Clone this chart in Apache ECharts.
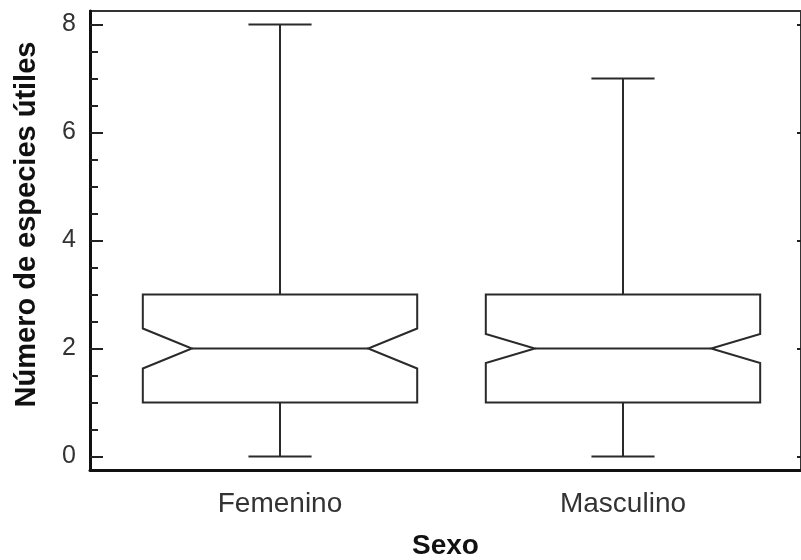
<!DOCTYPE html>
<html>
<head>
<meta charset="utf-8">
<script src="https://cdn.jsdelivr.net/npm/echarts@6/dist/echarts.min.js"></script>
<style>html,body{margin:0;padding:0;background:#fff}#c{width:801px;height:560px}</style>
</head>
<body>
<div id="c"></div>
<script>
// ---- data ----
const categories = ['Femenino', 'Masculino'];
const positions = [1, 2];
const minVals = [0, 0];
const q1Vals = [1, 1];
const medianVals = [2, 2];
const q3Vals = [3, 3];
const maxVals = [8, 7];
const notchLow = [1.63, 1.73];
const notchHigh = [2.37, 2.27];
const yMajorTicks = [0, 2, 4, 6, 8];
const yMinorTicks = [0, 0.5, 1, 1.5, 2, 2.5, 3, 3.5, 4, 4.5, 5, 5.5, 6, 6.5, 7, 7.5, 8];

const boxData = positions.map((p, i) => [p, minVals[i], q1Vals[i], medianVals[i], q3Vals[i], maxVals[i], notchLow[i], notchHigh[i]]);

const chart = echarts.init(document.getElementById('c'), null, {renderer: 'canvas'});
const lineColor = '#2a2a2a';
const txtColor = '#333';
const font = 'Liberation Sans, Arial, sans-serif';

function renderBox(params, api) {
  const x = api.value(0);
  const c = (v) => api.coord([x, v]);
  const halfW = api.size([0.4, 0])[0];
  const notchW = api.size([0.143, 0])[0];
  const capW = api.size([0.092, 0])[0];
  const cx = c(0)[0];
  const yMin = c(api.value(1))[1], yQ1 = c(api.value(2))[1], yMed = c(api.value(3))[1];
  const yQ3 = c(api.value(4))[1], yMax = c(api.value(5))[1];
  const yNL = c(api.value(6))[1], yNH = c(api.value(7))[1];
  const L = cx - halfW, R = cx + halfW;
  const st = {stroke: lineColor, lineWidth: 2, fill: null};
  return {
    type: 'group',
    children: [
      {type: 'polygon', shape: {points: [[L, yQ3], [R, yQ3], [R, yNH], [R - notchW, yMed], [R, yNL], [R, yQ1], [L, yQ1], [L, yNL], [L + notchW, yMed], [L, yNH]]}, style: st},
      {type: 'line', shape: {x1: L + notchW, y1: yMed, x2: R - notchW, y2: yMed}, style: st},
      {type: 'line', shape: {x1: cx, y1: yQ3, x2: cx, y2: yMax}, style: st},
      {type: 'line', shape: {x1: cx, y1: yQ1, x2: cx, y2: yMin}, style: st},
      {type: 'line', shape: {x1: cx - capW, y1: yMax, x2: cx + capW, y2: yMax}, style: st},
      {type: 'line', shape: {x1: cx - capW, y1: yMin, x2: cx + capW, y2: yMin}, style: st}
    ]
  };
}

const yMin = -0.25, yMax = 8.25;
const xMin = 0.446, xMax = 2.519;

chart.setOption({
  animation: false,
  backgroundColor: '#fff',
  grid: {left: 90, right: 0, top: 11, bottom: 90, show: true, borderColor: '#333', borderWidth: 2, containLabel: false, outerBoundsMode: 'none'},
  xAxis: {
    type: 'value', min: xMin, max: xMax,
    name: 'Sexo', nameLocation: 'middle', nameGap: 62,
    nameTextStyle: {fontFamily: font, fontWeight: 'bold', fontSize: 28, color: '#111'},
    axisLine: {show: true, onZero: false, lineStyle: {color: '#111', width: 3}},
    axisTick: {show: false},
    splitLine: {show: false},
    axisLabel: {
      customValues: positions, margin: 20,
      formatter: (v) => { const i = positions.indexOf(v); return i >= 0 ? categories[i] : ''; },
      fontFamily: font, fontSize: 28, color: txtColor
    }
  },
  yAxis: [
    {
      type: 'value', min: yMin, max: yMax, position: 'left',
      name: 'Número de especies útiles', nameLocation: 'middle', nameGap: 49, nameRotate: 90,
      nameTextStyle: {fontFamily: font, fontWeight: 'bold', fontSize: 29, color: '#111', padding: [0, 0, 0, 32]},
      axisLine: {show: true, onZero: false, lineStyle: {color: '#111', width: 3}},
      axisTick: {show: true, inside: true, length: 13, customValues: yMajorTicks, lineStyle: {color: '#222', width: 2}},
      axisLabel: {customValues: yMajorTicks, margin: 14, fontFamily: font, fontSize: 25, color: txtColor},
      splitLine: {show: false}
    },
    {
      type: 'value', min: yMin, max: yMax, position: 'left',
      axisLine: {show: false, onZero: false},
      axisTick: {show: true, inside: true, length: 8, customValues: yMinorTicks, lineStyle: {color: '#222', width: 2}},
      axisLabel: {show: false},
      splitLine: {show: false}
    },
    {
      type: 'value', min: yMin, max: yMax, position: 'right',
      axisLine: {show: false, onZero: false},
      axisTick: {show: true, inside: true, length: 4, customValues: yMajorTicks, lineStyle: {color: '#222', width: 2}},
      axisLabel: {show: false},
      splitLine: {show: false}
    }
  ],
  series: [{
    type: 'custom',
    renderItem: renderBox,
    data: boxData,
    encode: {x: 0, y: [1, 2, 3, 4, 5]},
    clip: false
  }]
});
</script>
</body>
</html>
